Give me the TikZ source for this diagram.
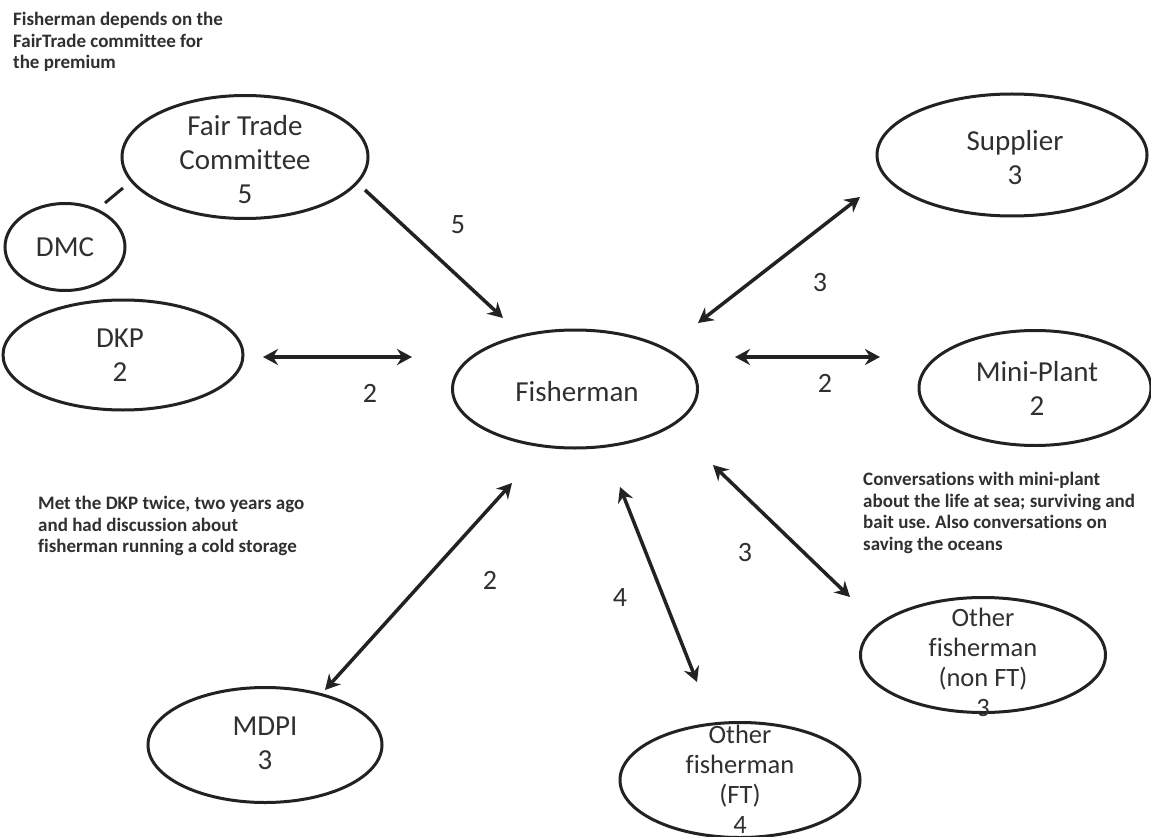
\documentclass[tikz,border=0pt]{standalone}
\usepackage{fontspec}
\setmainfont[Ligatures=NoCommon]{Carlito}
\usetikzlibrary{shapes.geometric,arrows.meta}
\frenchspacing

\definecolor{ink}{HTML}{222222}
\definecolor{txt}{HTML}{303030}

\tikzstyle{actor}=[draw=ink, ellipse, line width=3pt, inner sep=0pt]
\tikzstyle{lbl}=[text=txt, align=center, inner sep=0pt, font=\fontsize{29}{34}\selectfont]
\tikzstyle{lbl4}=[text=txt, align=center, inner sep=0pt, font=\fontsize{26.5}{30}\selectfont]
\tikzstyle{num}=[text=txt, inner sep=0pt, font=\fontsize{28}{31}\selectfont]
\tikzstyle{note}=[text=txt, align=left, inner sep=0pt, anchor=north west, font=\bfseries\fontsize{19}{21.5}\selectfont]
\tikzstyle{com}=[draw=ink, line width=3.5pt, {Stealth[length=15pt,width=16pt,inset=5pt]}-{Stealth[length=15pt,width=16pt,inset=5pt]}]
\tikzstyle{dep}=[draw=ink, line width=3.5pt, -{Stealth[length=15pt,width=16pt,inset=5pt]}]

\begin{document}
\begin{tikzpicture}[x=1pt, y=-1pt]
      \useasboundingbox[fill=white] (0,0) rectangle (1151,837);

      \node[actor, minimum width=246pt, minimum height=123pt] (ftc) at (245,157) {};
      \node[actor, minimum width=120pt, minimum height=87pt] (dmc) at (65,247) {};
      \node[actor, minimum width=270pt, minimum height=122pt] (sup) at (1012,155) {};
      \node[actor, minimum width=240pt, minimum height=110pt] (dkp) at (123,355) {};
      \node[actor, minimum width=245pt, minimum height=118pt] (fish) at (575,389) {};
      \node[actor, minimum width=232pt, minimum height=115pt] (mini) at (1035,388) {};
      \node[actor, minimum width=245pt, minimum height=115pt] (nft) at (983,655) {};
      \node[actor, minimum width=234pt, minimum height=115pt] (mdpi) at (265,745) {};
      \node[actor, minimum width=240pt, minimum height=115pt] (oft) at (740,780) {};

      \node[lbl] (ftc-l) at (245,160) {Fair Trade\\Committee\\5};
      \node[lbl] (dmc-l) at (dmc) {DMC};
      \node[lbl] (sup-l) at (1015,158) {Supplier\\3};
      \node[lbl] (dkp-l) at (120,355) {DKP\\2};
      \node[lbl] (fish-l) at (577,392) {Fisherman};
      \node[lbl] (mini-l) at (1037,388) {Mini-Plant\\2};
      \node[lbl4] (nft-l) at (983,662) {Other\\fisherman\\(non FT)\\3};
      \node[lbl] (mdpi-l) at (265,743) {MDPI\\3};
      \node[lbl4] (oft-l) at (740,779) {Other\\fisherman\\(FT)\\4};

      % arrow ends
      \coordinate (dmc-a) at (105,203);
      \coordinate (ftc-a) at (123,188);
      \coordinate (ftc-b) at (365,190);
      \coordinate (fish-a) at (503,318);
      \coordinate (sup-a) at (860,197);
      \coordinate (fish-b) at (698,323);
      \coordinate (dkp-a) at (263,357);
      \coordinate (fish-c) at (412,357);
      \coordinate (fish-d) at (735,357);
      \coordinate (mini-a) at (880,357);
      \coordinate (fish-e) at (512,483);
      \coordinate (mdpi-a) at (325,690);
      \coordinate (fish-f) at (620,487);
      \coordinate (oft-a) at (697,682);
      \coordinate (fish-g) at (713,465);
      \coordinate (nft-a) at (850,597);

      \draw[draw=ink, line width=3pt] (dmc-a) to (ftc-a);
      \draw[dep] (ftc-b) to (fish-a);
      \draw[com] (sup-a) to (fish-b);
      \draw[com] (dkp-a) to (fish-c);
      \draw[com] (fish-d) to (mini-a);
      \draw[com] (fish-e) to (mdpi-a);
      \draw[com] (fish-f) to (oft-a);
      \draw[com] (fish-g) to (nft-a);

      \node[num] (n-ftc) at (458,225) {5};
      \node[num] (n-sup) at (820,283) {3};
      \node[num] (n-dkp) at (370,393) {2};
      \node[num] (n-mini) at (825,383) {2};
      \node[num] (n-mdpi) at (490,580) {2};
      \node[num] (n-oft) at (620,598) {4};
      \node[num] (n-nft) at (745,553) {3};

      \node[note] (note-ftc) at (13,12) {Fisherman depends on the\\FairTrade committee for\\the premium};
      \node[note] (note-dkp) at (38,496) {Met the DKP twice, two years ago\\and had discussion about\\fisherman running a cold storage};
      \node[note] (note-mini) at (863,472) {Conversations with mini-plant\\about the life at sea; surviving and\\bait use. Also conversations on\\saving the oceans};
    \end{tikzpicture}
\end{document}
